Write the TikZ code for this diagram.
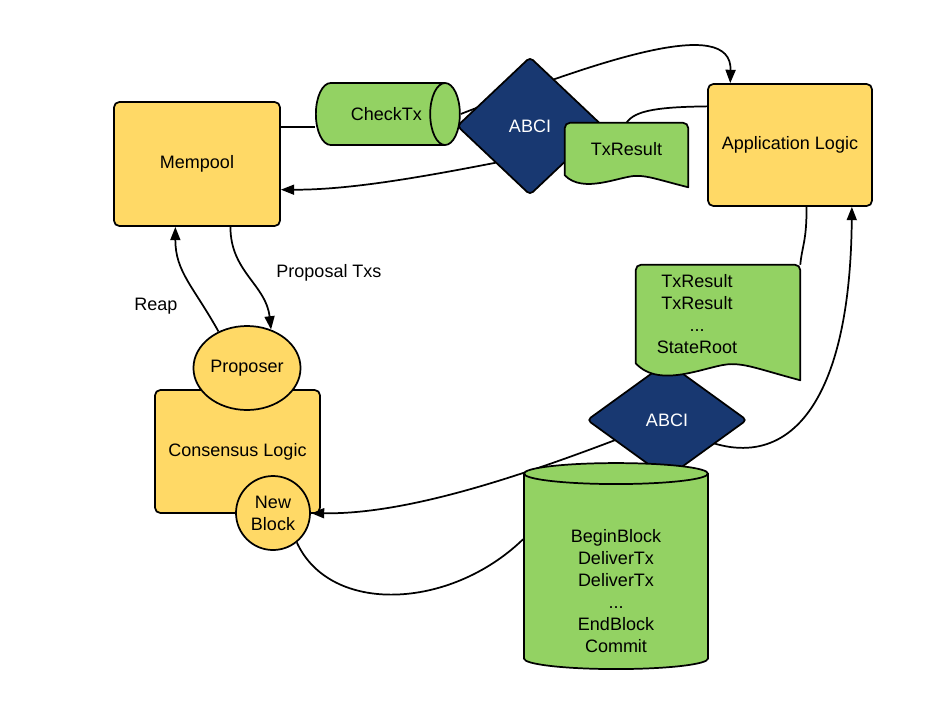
\documentclass[tikz,border=0pt]{standalone}
\usepackage{fontspec}
\setmainfont{Liberation Sans}
\usetikzlibrary{shapes.geometric,arrows.meta,calc}

\definecolor{boxyellow}{RGB}{255,217,102}
\definecolor{docgreen}{RGB}{147,210,99}
\definecolor{abciblue}{RGB}{24,56,113}

\pgfdeclarelayer{edges}
\pgfdeclarelayer{back}
\pgfdeclarelayer{docs}
\pgfsetlayers{edges,back,docs,main}

% document outline behind a node: name, wave depth, extra width on the right
\newcommand{\docshape}[3]{%
  \coordinate (#1-ne) at ($(#1.north east)+(#3,0)$);
  \coordinate (#1-se) at ($(#1.south east)+(#3,0)$);
  \begin{pgfonlayer}{docs}
  \draw[docline] (#1.south west) [rounded corners=4pt] -- (#1.north west) -- (#1-ne) [sharp corners] -- ($(#1-se)+(0,#2)$)
    .. controls ($(#1.south west)!0.75!(#1-se)+(0,0.35*#2)$) and ($(#1.south west)!0.68!(#1-se)+(0,0.05*#2)$) .. ($(#1.south west)!0.58!(#1-se)+(0,0.05*#2)$)
    .. controls ($(#1.south west)!0.45!(#1-se)+(0,0.05*#2)$) and ($(#1.south west)!0.15!(#1-se)+(0,1.6*#2)$) .. (#1.south west) -- cycle;
  \end{pgfonlayer}}

\begin{document}
\begin{tikzpicture}[x=0.75pt,y=-0.75pt,every node/.style={font=\fontsize{13.5}{16.5}\selectfont}]

\tikzstyle{box}=[rectangle,rounded corners=4pt,draw,line width=1.3pt,fill=boxyellow,inner sep=2pt]
\tikzstyle{bubble}=[draw,line width=1.3pt,fill=boxyellow,inner sep=1pt,align=center]
\tikzstyle{abci}=[diamond,draw,line width=1.3pt,rounded corners=3pt,fill=abciblue,text=white,inner sep=0pt]
\tikzstyle{pipe}=[cylinder,draw,line width=1.3pt,fill=docgreen,inner sep=2pt]
\tikzstyle{doc}=[rectangle,inner sep=2pt,align=center]
\tikzstyle{docline}=[draw,line width=1.3pt,fill=docgreen,line join=round]
\tikzstyle{lbl}=[inner sep=1pt]
\tikzstyle{link}=[line width=1.3pt]
\tikzstyle{flow}=[link,-{Triangle[length=10pt,width=7.5pt]}]

\useasboundingbox (0,0) rectangle (929,701);

\begin{pgfonlayer}{back}
  \node[abci,minimum width=109.5pt,minimum height=103.5pt] (abci1) at (530,126) {ABCI};
  \node[abci,minimum width=120pt,minimum height=87pt] (abci2) at (667,420) {ABCI};
\end{pgfonlayer}

\node[box,minimum width=124.5pt,minimum height=93pt] (mempool) at (197,164) {Mempool};
\node[box,minimum width=123pt,minimum height=91.5pt] (app) at (790,145) {Application Logic};
\node[box,minimum width=123.75pt,minimum height=92.25pt] (consensus) at (237.5,451.5) {Consensus Logic};
\node[bubble,ellipse,minimum width=75.75pt,minimum height=63pt] (proposer) at (247,368) {Proposer};
\node[bubble,circle,minimum size=55.5pt] (newblock) at (273,513) {New\\Block};

\node[pipe,minimum width=46.5pt,minimum height=108pt,aspect=1.6] (checktx) at (377,114) {\hspace*{14pt}CheckTx};
\node[pipe,shape border rotate=90,minimum width=138pt,minimum height=154.5pt,aspect=0.22,align=center] (db) at (616,573)
  {\mbox{}\\[20pt]BeginBlock\\DeliverTx\\DeliverTx\\...\\EndBlock\\Commit};

\node[doc,minimum width=92.25pt,minimum height=39pt] (res1) at (626.5,149) {TxResult};
\docshape{res1}{12}{0}
\node[doc,minimum width=91.5pt,minimum height=73.5pt] (res2) at (697,314) {TxResult\\TxResult\\...\\StateRoot};
\docshape{res2}{17}{42}

\node[lbl] (txslbl) at (329,273) {Proposal Txs};
\node[lbl] (reaplbl) at (156,306) {Reap};

\begin{pgfonlayer}{edges}
  \draw[link] (mempool.24) -- (mempool.24 -| checktx.west);
  \draw[flow] (checktx.east) .. controls (600,60) and (732,15) .. (app.134);
  \draw[link] (app.155) .. controls (660,107) and (635,110) .. (res1.north);
  \draw[flow] (res1.west) .. controls (450,172) and (360,190) .. (mempool.-17);
  \draw[flow] (mempool.-62) .. controls +(0,45) and +(-5,-45) .. (proposer.58);
  \draw[flow] (proposer.128) .. controls +(-25,-45) and +(0,45) .. (mempool.-109);
  \draw[flow] (abci2.center) .. controls (560,462) and (420,515) .. (newblock.east);
  \draw[link] (newblock.-51) .. controls (330,615) and (450,610) .. (db.160);
  \draw[link] (app.-75) .. controls +(0,35) and +(2,-20) .. (res2-ne);
  \draw[flow] (abci2.center) .. controls (770,490) and (850,430) .. (app.-45);
\end{pgfonlayer}

\end{tikzpicture}
\end{document}
